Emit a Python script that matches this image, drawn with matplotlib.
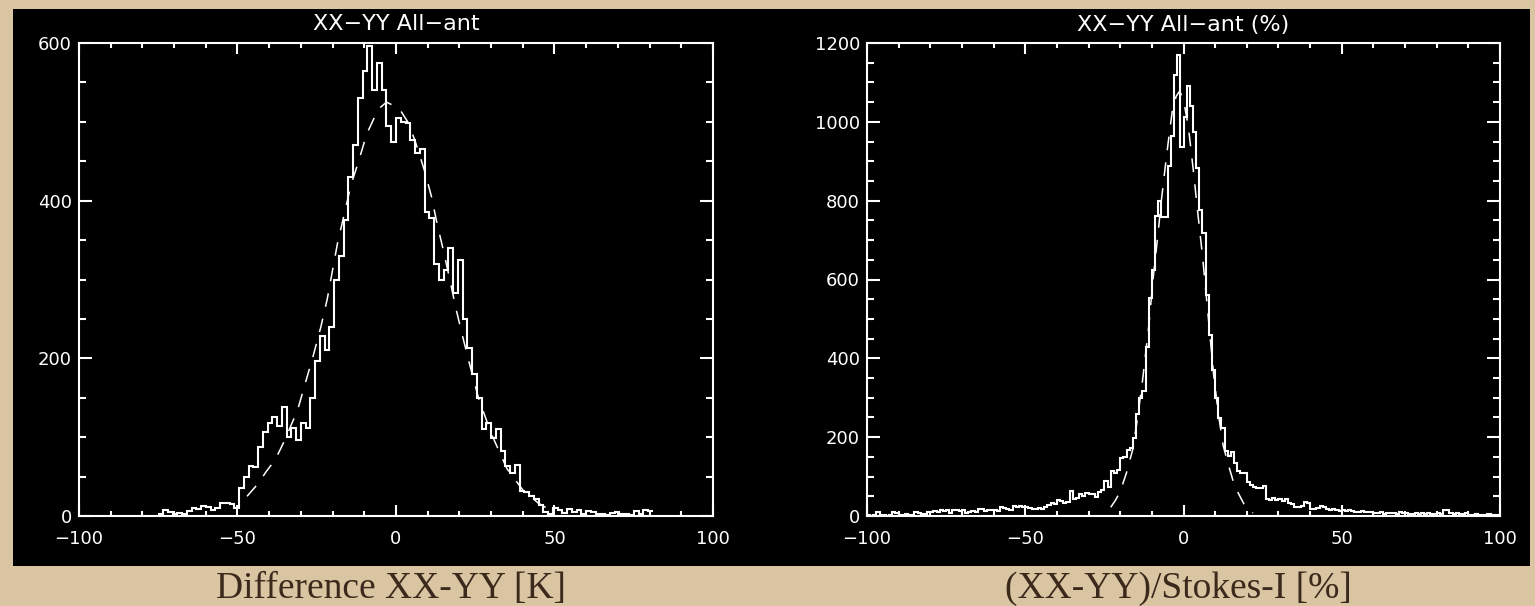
import numpy as np
import matplotlib.pyplot as plt
from matplotlib.patches import Rectangle

# XX-YY difference histogram, all antennas (K), 1.5 K bins from -75 K
diff_bin_start = -75.0
diff_bin_width = 1.5
diff_counts = [
    2, 7, 5, 3, 4, 2, 6, 10, 9, 13,
    12, 8, 10, 17, 16, 15, 10, 35, 50, 63,
    62, 88, 106, 118, 125, 114, 138, 100, 111, 97,
    118, 112, 150, 197, 228, 210, 240, 300, 330, 375,
    430, 470, 530, 565, 596, 540, 575, 540, 495, 475,
    505, 500, 498, 477, 460, 465, 385, 378, 320, 300,
    312, 340, 283, 325, 250, 213, 180, 150, 110, 118,
    99, 110, 82, 63, 55, 65, 32, 30, 26, 21,
    14, 5, 3, 10, 7, 4, 9, 5, 7, 3,
    6, 5, 2, 3, 1, 4, 5, 2, 3, 1,
    6, 3, 7, 6,
]
# gaussian fit overlay (dashed)
diff_fit_x = [-47, -43.5, -41, -38, -35, -31, -28.5, -26, -23.7, -21.7, -18.5,
              -14.2, -11.8, -9.2, -5.6, -3, 1, 3.7, 6, 9, 11.2, 13, 15, 17.4,
              18.8, 21, 23, 26, 30, 35, 40, 45, 48]
diff_fit_y = [25, 41, 56, 72, 97, 135, 170, 205, 240, 275, 345,
              420, 450, 485, 516, 525, 517, 500, 476, 438, 405, 370, 336, 292,
              265, 228, 196, 150, 105, 60, 33, 16, 9]

# (XX-YY)/Stokes-I histogram (%), 1 % bins from -100 %
pct_bin_start = -100.0
pct_bin_width = 1.0
pct_counts = [
    2, 0, 3, 9, 2, 3, 1, 2, 9, 8,
    3, 2, 4, 2, 3, 9, 7, 4, 6, 11,
    9, 12, 10, 15, 13, 16, 8, 15, 14, 12,
    16, 8, 11, 12, 10, 19, 17, 13, 15, 14,
    16, 12, 22, 20, 17, 15, 25, 24, 26, 22,
    22, 20, 18, 19, 21, 17, 24, 27, 32, 30,
    41, 38, 32, 35, 64, 42, 45, 56, 52, 59,
    57, 55, 49, 60, 66, 90, 74, 115, 108, 117,
    146, 150, 168, 172, 197, 260, 299, 316, 430, 552,
    624, 760, 798, 758, 758, 887, 963, 1119, 1170, 936,
    1013, 1090, 1041, 975, 882, 777, 717, 561, 459, 371,
    299, 248, 222, 165, 151, 163, 134, 113, 108, 108,
    87, 79, 74, 70, 70, 75, 42, 41, 45, 40,
    42, 38, 44, 32, 30, 24, 22, 25, 36, 34,
    19, 18, 20, 25, 24, 17, 16, 18, 15, 13,
    14, 12, 15, 12, 11, 10, 12, 9, 11, 10,
    8, 7, 9, 6, 8, 7, 8, 6, 9, 7,
    7, 6, 5, 7, 6, 8, 5, 7, 6, 5,
    7, 6, 15, 14, 7, 6, 7, 5, 6, 7,
    3, 2, 4, 3, 2, 3, 4, 2, 3, 2,
]
pct_fit_x = [-23, -21.5, -20, -18, -16, -14.5, -13, -11, -9.5, -8, -7, -6,
             -4.8, -3.5, -2.3, -1.2, 0, 1.5, 3.2, 4.5, 6, 8, 9.5, 11, 12.5,
             14, 16, 17.5, 19, 20, 22]
pct_fit_y = [22, 40, 62, 110, 170, 250, 340, 480, 610, 720, 800, 870,
             950, 1030, 1065, 1078, 1055, 990, 870, 770, 660, 490, 360, 260, 180,
             135, 80, 55, 32, 17, 8]

titles = ['XX\u2212YY All\u2212ant', 'XX\u2212YY All\u2212ant (%)']
xlabels = ['Difference XX-YY [K]', '(XX-YY)/Stokes-I [%]']
xticks = [-100, -50, 0, 50, 100]

BG = '#d9c5a2'
INK = '#3b2a1c'


def edges_for(start, width, counts):
    return start + width * np.arange(len(counts) + 1)


def idl_axes(ax, ymax, title):
    ax.set_facecolor('black')
    for s in ax.spines.values():
        s.set_color('white')
        s.set_linewidth(1.5)
    ax.set_xlim(-100, 100)
    ax.set_ylim(0, ymax)
    ax.set_xticks(xticks)
    ax.set_xticks(np.arange(-100, 101, 10), minor=True)
    ax.set_yticks(np.arange(0, ymax + 1, 200))
    ax.set_yticks(np.arange(0, ymax + 1, 50), minor=True)
    ax.tick_params(which='both', direction='in', top=True, right=True,
                   colors='white', width=1.5, labelsize=13)
    ax.tick_params(axis='x', which='major', length=8, pad=10)
    ax.tick_params(axis='x', which='minor', length=3.6)
    ax.tick_params(axis='y', which='major', length=9.5, pad=5)
    ax.tick_params(axis='y', which='minor', length=5)
    ax.set_title(title, color='white', fontsize=16, pad=9)


fig = plt.figure(figsize=(15.35, 6.06), dpi=100, facecolor=BG)
# black plot window behind both panels
fig.patches.append(Rectangle((13 / 1535, 1 - 566 / 606), 1517 / 1535, 557 / 606,
                             transform=fig.transFigure, facecolor='black',
                             edgecolor='none', zorder=-5))

ax1 = fig.add_axes([79 / 1535, 1 - 516 / 606, 634 / 1535, 473 / 606])
ax2 = fig.add_axes([867 / 1535, 1 - 516 / 606, 633 / 1535, 473 / 606])

idl_axes(ax1, 600, titles[0])
idl_axes(ax2, 1200, titles[1])

ax1.stairs(diff_counts, edges_for(diff_bin_start, diff_bin_width, diff_counts),
           baseline=None, color='white', lw=1.5)
ax1.plot(diff_fit_x, diff_fit_y, color='white', lw=1.1, dashes=(9, 8))

ax2.stairs(pct_counts, edges_for(pct_bin_start, pct_bin_width, pct_counts),
           baseline=None, color='white', lw=1.5)
ax2.plot(pct_fit_x, pct_fit_y, color='white', lw=1.1, dashes=(9, 8))

fig.text(391 / 1535, 8 / 606, xlabels[0], ha='center', va='baseline',
         fontsize=27, family='Liberation Serif', color=INK)
fig.text(1178 / 1535, 8 / 606, xlabels[1], ha='center', va='baseline',
         fontsize=27, family='Liberation Serif', color=INK)

fig.savefig('out.png', dpi=100, facecolor=BG)
